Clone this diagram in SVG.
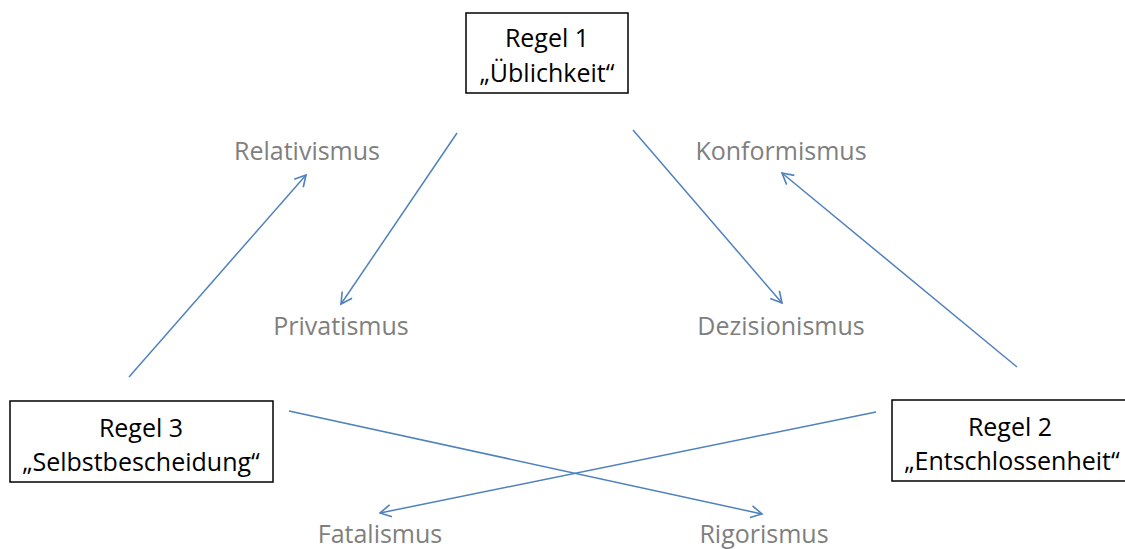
<svg xmlns="http://www.w3.org/2000/svg" width="1125" height="549" viewBox="0 0 1125 549">
<defs>
<marker id="arr" markerWidth="14" markerHeight="14" refX="12" refY="7" orient="auto" markerUnits="userSpaceOnUse">
<path d="M1,1 L12,7 L1,13" fill="none" stroke="#4f81bd" stroke-width="1.6"/>
</marker>
<style>
.box{fill:#fff;stroke:#000;stroke-width:1.5}
.t{font-family:"Open Sans","Noto Sans",sans-serif;font-size:25px;fill:#000;text-anchor:middle}
.l{font-family:"Open Sans","Noto Sans",sans-serif;font-size:25px;fill:#7f7f7f;text-anchor:middle}
.c{stroke:#4f81bd;stroke-width:1.5;fill:none;marker-end:url(#arr)}
</style>
</defs>
<rect width="1125" height="549" fill="#fff"/>
<g id="connectors">
<line class="c" x1="457" y1="133" x2="341" y2="304"/>
<line class="c" x1="633" y1="130" x2="782" y2="303"/>
<line class="c" x1="129" y1="377" x2="306" y2="175"/>
<line class="c" x1="1017" y1="367" x2="782" y2="173"/>
<line class="c" x1="289" y1="411" x2="762" y2="514"/>
<line class="c" x1="876" y1="412" x2="380" y2="513"/>
</g>
<g id="regel1">
<rect class="box" x="466" y="13" width="162" height="80"/>
<text class="t" x="547" y="47">Regel 1</text>
<text class="t" x="547" y="82">„Üblichkeit“</text>
</g>
<g id="regel3">
<rect class="box" x="10" y="401" width="263" height="81"/>
<text class="t" x="141" y="437">Regel 3</text>
<text class="t" x="141" y="471">„Selbstbescheidung“</text>
</g>
<g id="regel2">
<rect class="box" x="892" y="400" width="240" height="81"/>
<text class="t" x="1010" y="436">Regel 2</text>
<text class="t" x="1012" y="470">„Entschlossenheit“</text>
</g>
<g id="relativismus"><text class="l" x="307" y="160">Relativismus</text></g>
<g id="konformismus"><text class="l" x="781" y="160">Konformismus</text></g>
<g id="privatismus"><text class="l" x="341" y="335">Privatismus</text></g>
<g id="dezisionismus"><text class="l" x="781" y="335">Dezisionismus</text></g>
<g id="fatalismus"><text class="l" x="380" y="543">Fatalismus</text></g>
<g id="rigorismus"><text class="l" x="764" y="543">Rigorismus</text></g>
</svg>
